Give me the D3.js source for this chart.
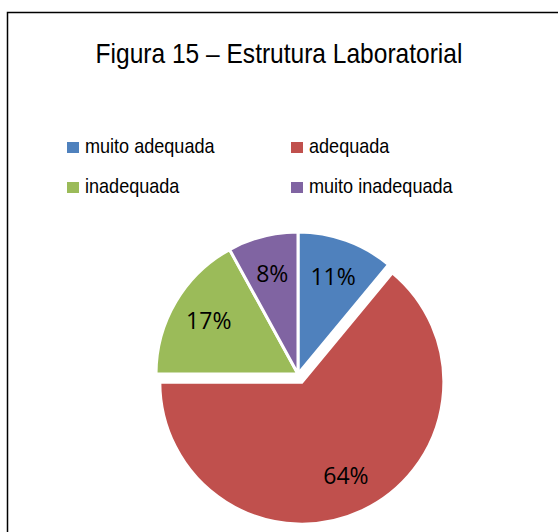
<!DOCTYPE html>
<html>
<head>
<meta charset="utf-8">
<script src="https://cdn.jsdelivr.net/npm/d3@7"></script>
<style>
  body { margin: 0; background: #fff; }
  svg { display: block; }
</style>
</head>
<body>
<div id="chart"></div>
<script>
// data
var categories = ["muito adequada", "adequada", "inadequada", "muito inadequada"];
var values = [11, 64, 17, 8];
var colors = ["#4F81BD", "#C0504D", "#9BBB59", "#8064A2"];
var title = "Figura 15 \u2013 Estrutura Laboratorial";

var width = 558, height = 532;
var cx = 298, cy = 374, radius = 142;
var explodeIndex = 1, explodeBy = 9;

var svg = d3.select("#chart")
  .append("svg")
  .attr("width", width)
  .attr("height", height);

// chart frame (right and bottom run off the picture)
svg.append("rect")
  .attr("x", 7.5)
  .attr("y", 12.5)
  .attr("width", 600)
  .attr("height", 600)
  .attr("fill", "#fff")
  .attr("stroke", "#000")
  .attr("stroke-width", 1.5);

var sans = "'Liberation Sans', Arial, sans-serif";

// no narrow font here, so squeeze the text horizontally
function squeeze(sel, k) {
  sel.each(function () {
    var w = this.getComputedTextLength();
    d3.select(this)
      .attr("textLength", w * k)
      .attr("lengthAdjust", "spacingAndGlyphs");
  });
}

// title
svg.append("text")
  .attr("x", 279)
  .attr("y", 63)
  .attr("text-anchor", "middle")
  .attr("font-family", sans)
  .attr("font-size", 28)
  .attr("fill", "#000")
  .text(title)
  .call(squeeze, 0.876);

// legend, two columns
var legend = svg.append("g").selectAll("g")
  .data(categories)
  .enter().append("g")
  .attr("transform", function (d, i) {
    return "translate(" + (67 + (i % 2) * 224) + "," + (142 + Math.floor(i / 2) * 40) + ")";
  });

legend.append("rect")
  .attr("width", 12)
  .attr("height", 11)
  .attr("fill", function (d, i) { return colors[i]; });

legend.append("text")
  .attr("x", 18)
  .attr("y", 11)
  .attr("font-family", sans)
  .attr("font-size", 21)
  .attr("fill", "#000")
  .text(function (d) { return d; })
  .call(squeeze, 0.86);

// pie
var pie = d3.pie().sort(null).value(function (d) { return d; });
var arcs = pie(values);
var arc = d3.arc().innerRadius(0).outerRadius(radius);
var labelArc = d3.arc().innerRadius(0).outerRadius(radius * 1.46);

function offset(d, i) {
  if (i !== explodeIndex) return [0, 0];
  var a = (d.startAngle + d.endAngle) / 2;
  return [Math.sin(a) * explodeBy, -Math.cos(a) * explodeBy];
}

var g = svg.append("g").attr("transform", "translate(" + cx + "," + cy + ")");

var slices = g.selectAll("g.slice")
  .data(arcs)
  .enter().append("g")
  .attr("class", "slice")
  .attr("transform", function (d, i) {
    var o = offset(d, i);
    return "translate(" + o[0] + "," + o[1] + ")";
  });

slices.append("path")
  .attr("d", arc)
  .attr("fill", function (d, i) { return colors[i]; })
  .attr("stroke", "#fff")
  .attr("stroke-width", 3)
  .attr("stroke-linejoin", "miter");

slices.append("text")
  .attr("transform", function (d) {
    var c = labelArc.centroid(d);
    return "translate(" + c[0] + "," + c[1] + ")";
  })
  .attr("dy", "0.35em")
  .attr("text-anchor", "middle")
  .attr("font-family", "'Open Sans', sans-serif")
  .attr("font-size", 23)
  .attr("fill", "#000")
  .text(function (d) { return d.data + "%"; });
</script>
</body>
</html>
